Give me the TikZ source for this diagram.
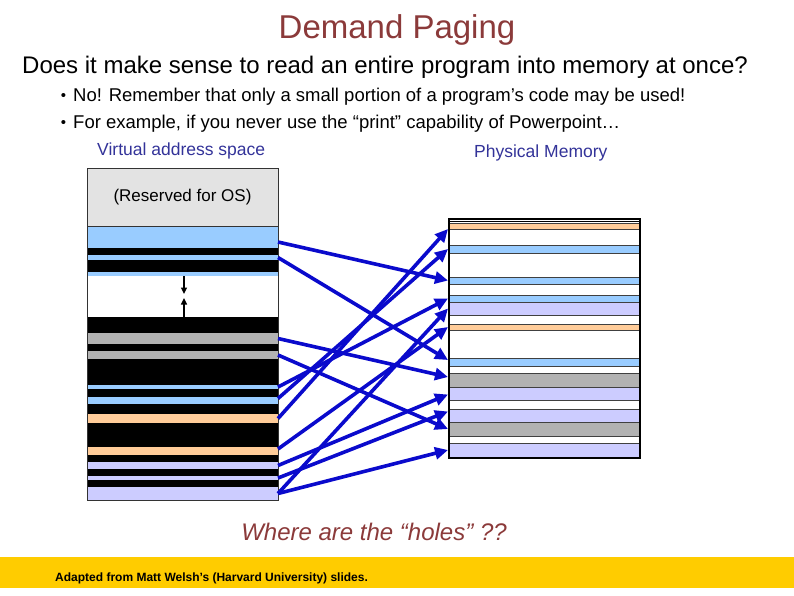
\documentclass[tikz,border=0pt]{standalone}
\usepackage{fontspec}
\setmainfont{Liberation Sans}
\usetikzlibrary{arrows.meta,positioning,calc}
\definecolor{titlered}{HTML}{8B3A3A}
\definecolor{labelblue}{HTML}{333399}
\definecolor{pgblue}{HTML}{99CCFF}
\definecolor{pgpeach}{HTML}{FFCC99}
\definecolor{pglav}{HTML}{CCCCFF}
\definecolor{pggray}{HTML}{B2B2B2}
\definecolor{osgray}{HTML}{E3E3E3}
\definecolor{mapblue}{HTML}{0A0ACC}
\definecolor{footyellow}{HTML}{FFCC00}
\tikzset{
  vband/.style = {rectangle, inner sep=0pt, outer sep=0pt, minimum width=191pt,
                  anchor=north west},
  pband/.style = {rectangle, draw=black!75, line width=0.6pt, inner sep=0pt,
                  outer sep=0pt, minimum width=191pt, anchor=north west},
  maparrow/.style = {draw=mapblue, line width=3.6pt, -{Triangle[length=13pt,width=12pt]}},
  gaparrow/.style = {draw=black, line width=1.5pt, -{Triangle[length=6.5pt,width=6pt]}},
  bodytext/.style = {inner sep=0pt, anchor=base west},
}
\newcommand{\slidebullet}{\makebox[0pt][r]{\raisebox{0.5pt}{\fontsize{15}{15}\selectfont\textbullet}\hspace{7pt}}}

\begin{document}
\begin{tikzpicture}[x=1pt,y=-1pt,>=Latex]
  \useasboundingbox (0,0) rectangle (794,595);

  % Title and text
  \node[inner sep=0pt, anchor=base, text=titlered, font=\fontsize{33}{40}\selectfont] (title) at (397,38)
    {Demand Paging};
  \node[bodytext, font=\fontsize{24}{28}\selectfont] (question) at (22,73)
    {Does it make sense to read an entire program into memory at once?};
  \node[bodytext, font=\fontsize{18.5}{22}\selectfont] (item1) at (73,101)
    {\slidebullet No! Remember that only a small portion of a program's code may be used!};
  \node[bodytext, font=\fontsize{18.5}{22}\selectfont] (item2) at (73,128)
    {\slidebullet For example, if you never use the “print” capability of Powerpoint…};
  \node[bodytext, text=labelblue, font=\fontsize{17.5}{21}\selectfont] (vlabel) at (97,155)
    {Virtual address space};
  \node[bodytext, text=labelblue, font=\fontsize{17.5}{21}\selectfont] (plabel) at (474,157)
    {Physical Memory};

  % === Virtual address space ===
  \node[vband, fill=osgray, minimum height=58pt, font=\fontsize{17}{20}\selectfont] (res) at (87,168)
    {\raisebox{-6pt}{(Reserved for OS)}};
  \foreach \n/\t/\b/\c in {v1/226/248/pgblue, k1/248/255/black, v2/255/260/pgblue,
      k2/260/272/black, v3/272/276/pgblue, hole/276/317/white, k3/317/333/black,
      v4/333/344/pggray, k4/344/351/black, v5/351/359/pggray, k5/359/385/black,
      v6/385/389/pgblue, k6/389/397/black, v7/397/404/pgblue, k7/404/414/black,
      v8/414/423/pgpeach, k8/423/447/black, v9/447/455/pgpeach, k9/455/462/black,
      v10/462/469/pglav, k10/469/476/black, v11/476/480/pglav, k11/480/487/black,
      v12/487/500/pglav} {
    \pgfmathsetmacro{\h}{\b-\t}
    \node[vband, fill=\c, minimum height=\h pt] (\n) at (87,\t) {};
  }
  \draw[black!80, line width=0.7pt] (res.north west) rectangle (v12.south east);
  \draw[black!80, line width=0.7pt] (res.south west) -- (res.south east);

  % stack / heap growth
  \coordinate (heaptip) at (184,294);
  \coordinate (stacktip) at (184,298);
  \draw[gaparrow] (hole.north -| heaptip) -- (heaptip);
  \draw[gaparrow] (hole.south -| stacktip) -- (stacktip);

  % === Physical memory ===
  \foreach \n/\t/\b/\c in {p1/223/229/pgpeach, p2/245/253/pgblue, p3/277/284/pgblue,
      p4/295/302/pgblue, p5/302/315/pglav, p6/324/330/pgpeach, p7/358/366/pgblue,
      p8/373/387/pggray, p9/387/400/pglav, p10/409/422/pglav, p11/422/436/pggray,
      p12/443/457/pglav} {
    \pgfmathsetmacro{\h}{\b-\t}
    \node[pband, fill=\c, minimum height=\h pt] (\n) at (448,\t) {};
  }
  \node[draw, line width=2pt, inner sep=0pt, minimum width=191pt, minimum height=239pt,
        anchor=north west] (phys) at (448,218) {};
  \draw[black, line width=0.8pt] ([yshift=-3pt]phys.north west) -- ([yshift=-3pt]phys.north east);

  % Page mappings
  \draw[maparrow] ([yshift=-5pt]v1.east) -- (p3.west);
  \draw[maparrow] (v2.east) -- ([yshift=2pt]p7.west);
  \draw[maparrow] (v4.east) -- ([yshift=3pt]p8.west);
  \draw[maparrow] (v5.east) -- (p11.west);
  \draw[maparrow] (v6.east) -- (p4.west);
  \draw[maparrow] ([yshift=2pt]v7.east) -- (p2.west);
  \draw[maparrow] (v8.east) -- ([yshift=-3pt]p1.west);
  \draw[maparrow] ([yshift=2pt]v9.east) -- (p6.west);
  \draw[maparrow] (v10.east) -- ([yshift=-1pt]p9.west);
  \draw[maparrow] (v11.east) -- ([yshift=4pt]p10.west);
  \draw[maparrow] (v12.east) -- (p5.west);
  \draw[maparrow] (v12.east) -- (p12.west);

  % Question
  \node[inner sep=0pt, anchor=base, text=titlered, font=\itshape\fontsize{24}{28}\selectfont] (holes) at (374,540)
    {Where are the “holes” ??};

  % Footer
  \node[fill=footyellow, inner sep=0pt, minimum width=794pt, minimum height=31pt,
        anchor=north west] (footer) at (0,557) {};
  \node[bodytext, font=\bfseries\fontsize{12}{14}\selectfont] (credit) at (55,581)
    {Adapted from Matt Welsh’s (Harvard University) slides.};
\end{tikzpicture}
\end{document}
